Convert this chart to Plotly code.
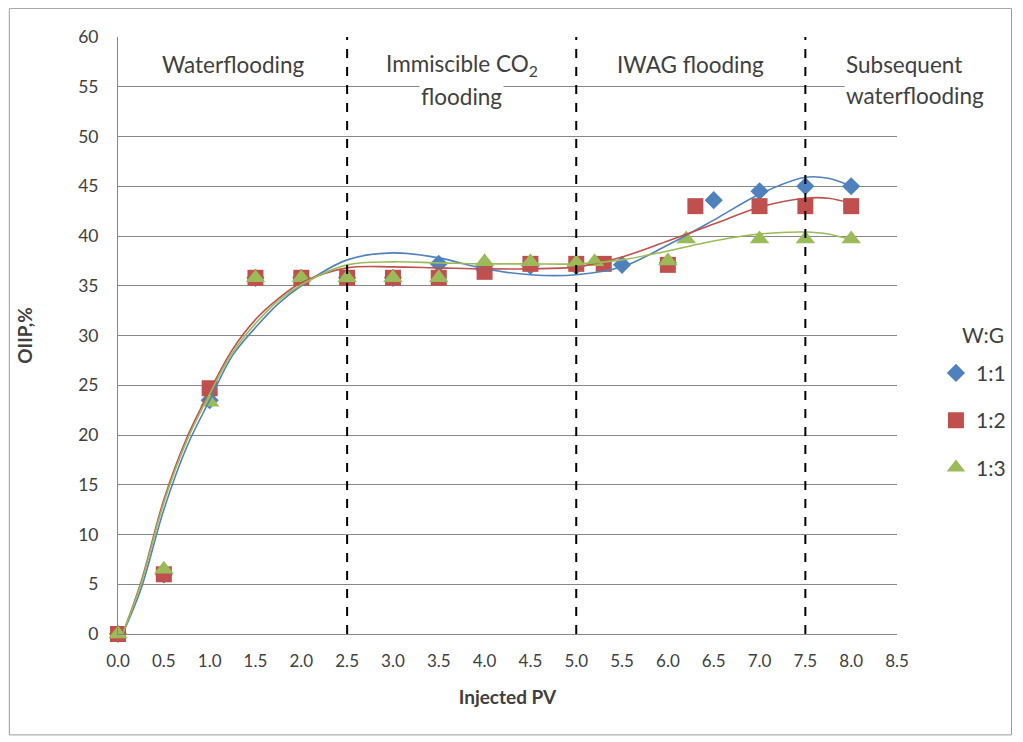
import plotly.graph_objects as go

# ---- data: measured points ----
x_11 = [0.0, 0.5, 1.0, 1.5, 2.0, 2.5, 3.0, 3.5, 4.0, 4.5, 5.0, 5.5, 6.0, 6.5, 7.0, 7.5, 8.0]
y_11 = [0.0, 6.0, 23.5, 35.8, 35.8, 35.8, 35.8, 37.2, 36.6, 37.0, 37.0, 37.1, 37.3, 43.6, 44.5, 45.0, 45.0]

x_12 = [0.0, 0.5, 1.0, 1.5, 2.0, 2.5, 3.0, 3.5, 4.0, 4.5, 5.0, 5.3, 6.0, 6.3, 7.0, 7.5, 8.0]
y_12 = [0.0, 6.0, 24.7, 35.8, 35.8, 35.8, 35.8, 35.8, 36.4, 37.2, 37.2, 37.2, 37.1, 43.0, 43.0, 43.0, 43.0]

x_13 = [0.0, 0.5, 1.0, 1.5, 2.0, 2.5, 3.0, 3.5, 4.0, 4.5, 5.0, 5.2, 6.0, 6.2, 7.0, 7.5, 8.0]
y_13 = [0.0, 6.5, 23.3, 35.8, 35.8, 35.8, 35.8, 35.8, 37.4, 37.4, 37.3, 37.4, 37.5, 39.7, 39.7, 39.7, 39.7]

# ---- data: trend curves ----
x_fit = [0.05, 0.25, 0.5, 0.75, 1.0, 1.25, 1.5, 1.75, 2.0, 2.5, 3.0, 3.5, 4.0, 4.5, 5.0, 5.5, 6.0, 6.5, 7.0, 7.5, 7.75, 8.0]
fit_11 = [0.0, 4.5, 12.5, 18.8, 23.5, 28.0, 30.8, 33.2, 35.0, 37.6, 38.3, 37.8, 36.7, 36.1, 36.1, 36.9, 39.1, 41.6, 44.2, 45.9, 45.8, 45.0]
fit_12 = [0.0, 5.2, 13.5, 19.7, 24.4, 28.6, 31.6, 33.7, 35.3, 36.8, 36.9, 36.8, 36.7, 36.7, 36.9, 37.9, 39.5, 41.2, 42.9, 43.8, 43.8, 43.3]
fit_13 = [0.0, 5.0, 13.2, 19.4, 24.1, 28.3, 31.2, 33.5, 35.1, 37.1, 37.4, 37.3, 37.2, 37.2, 37.2, 37.6, 38.5, 39.5, 40.2, 40.4, 40.2, 39.6]

series_names = ["1:1", "1:2", "1:3"]
legend_title = "W:G"
stage_bounds = [2.5, 5.0, 7.5]
x_ticks = [0.0, 0.5, 1.0, 1.5, 2.0, 2.5, 3.0, 3.5, 4.0, 4.5, 5.0, 5.5, 6.0, 6.5, 7.0, 7.5, 8.0, 8.5]
y_ticks = list(range(0, 61, 5))

colors = ["#4F81BD", "#C0504D", "#9BBB59"]
symbols = ["diamond", "square", "triangle-up"]
sizes = [14, 16, 17]
FONT = "Lato, 'Open Sans', sans-serif"
TXT = "#404040"

fig = go.Figure()
points = [(x_11, y_11), (x_12, y_12), (x_13, y_13)]
fits = [fit_11, fit_12, fit_13]

for i, (xs, ys) in enumerate(points):
    fig.add_trace(go.Scatter(
        x=xs, y=ys, mode="markers", name=series_names[i],
        legendgroup=series_names[i],
        marker=dict(symbol=symbols[i], size=sizes[i], color=colors[i], line=dict(width=0)),
        cliponaxis=False,
    ))

for i, fy in enumerate(fits):
    fig.add_trace(go.Scatter(
        x=x_fit, y=fy, mode="lines", showlegend=False, hoverinfo="skip",
        line=dict(color=colors[i], width=1.6, shape="spline", smoothing=1.0),
    ))

for xb in stage_bounds:
    fig.add_shape(type="line", x0=xb, x1=xb, y0=0, y1=60, xref="x", yref="y",
                  line=dict(color="black", width=2, dash="dash"))

# chart frame
fig.add_shape(type="rect", xref="paper", yref="paper",
              x0=-0.1395, x1=1.147, y0=-0.169, y1=1.048,
              line=dict(color="#9a9a9a", width=1), layer="below")

ann_font = dict(family=FONT, size=22.5, color=TXT)
def ann(x, y, text, **kw):
    fig.add_annotation(x=x, y=y, text=text, showarrow=False, font=ann_font,
                       xref="x", yref="y", **kw)

ann(1.25, 57.2, "Waterflooding")
ann(3.75, 57.2, "Immiscible CO<sub>2</sub>", bgcolor="white")
ann(3.75, 54.0, "flooding", bgcolor="white")
ann(6.25, 57.2, "IWAG flooding")
ann(7.92, 57.2, "Subsequent", xanchor="left", bgcolor="white")
ann(7.92, 54.1, "waterflooding", xanchor="left", bgcolor="white")

# legend title
fig.add_annotation(x=1.0805, y=0.502, xref="paper", yref="paper", text=legend_title,
                   showarrow=False, xanchor="left", yanchor="middle",
                   font=dict(family=FONT, size=21, color=TXT))

fig.update_layout(
    width=1015, height=734,
    margin=dict(l=110, r=123, t=29, b=108),
    paper_bgcolor="white", plot_bgcolor="white",
    font=dict(family=FONT, color=TXT, size=18),
    showlegend=True,
    legend=dict(x=1.05, y=0.471, xanchor="left", yanchor="top",
                font=dict(family=FONT, size=21, color=TXT),
                tracegroupgap=17, itemwidth=30),
    xaxis=dict(range=[0, 8.5], tickvals=x_ticks, ticktext=[f"{v:.1f}" for v in x_ticks],
               showgrid=False, zeroline=False, showline=True, linecolor="#868686", linewidth=1,
               ticks="", tickfont=dict(size=17, color=TXT), ticklabelstandoff=12, automargin=False,
               title=dict(text="<b>Injected PV</b>", font=dict(size=19, color=TXT), standoff=20)),
    yaxis=dict(range=[0, 60], tickvals=y_ticks, showgrid=True, gridcolor="#868686", gridwidth=1,
               zeroline=False, showline=True, linecolor="#868686", linewidth=1,
               ticks="", tickfont=dict(size=17.5, color=TXT), ticklabelstandoff=15, automargin=False,
               title=dict(text="<b>OIIP,%</b>", font=dict(size=19, color=TXT), standoff=40)),
)

fig.write_html("out.html")
